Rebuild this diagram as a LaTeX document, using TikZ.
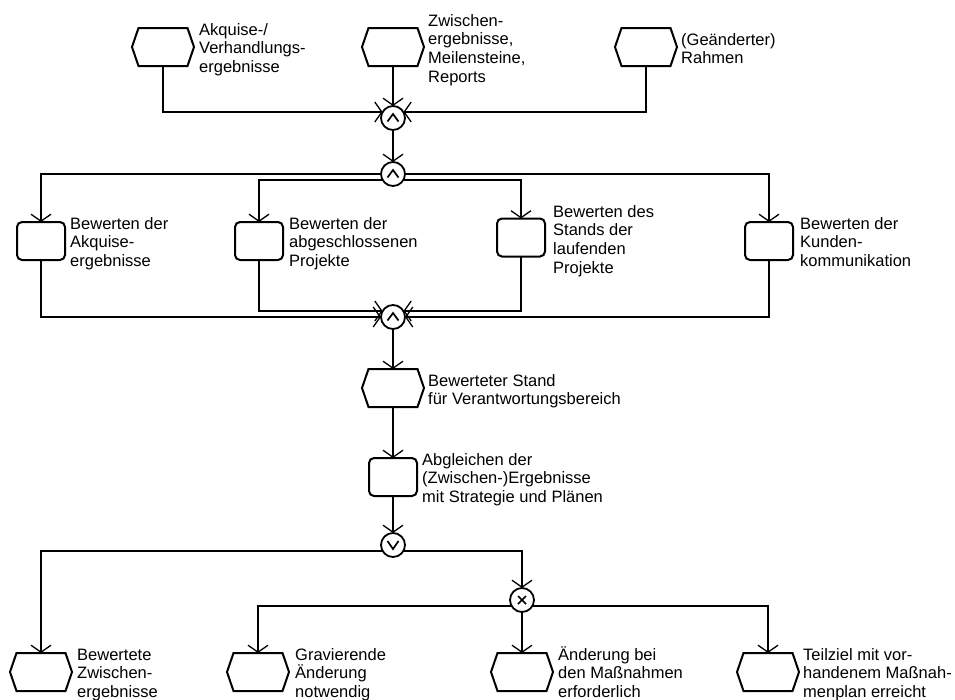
\documentclass[tikz,border=0pt]{standalone}
\usepackage{fontspec}
\setmainfont{Liberation Sans}
\usetikzlibrary{arrows.meta}
\begin{document}
\begin{tikzpicture}[x=1pt,y=-1pt,
  event/.style={minimum width=62pt,minimum height=38pt,inner sep=0pt,outer sep=0pt},
  evline/.style={line width=2pt,line join=miter},
  func/.style={draw,line width=2pt,rounded corners=5pt,minimum width=48pt,minimum height=38pt,inner sep=0pt,outer sep=0pt},
  conn/.style={draw,circle,line width=1.8pt,minimum size=24pt,inner sep=0pt,outer sep=0pt,fill=white},
  sym/.style={line width=1.7pt},
  flow/.style={line width=1.3pt,-{Straight Barb[length=7pt,width=20pt]}},
  lbl/.style={anchor=north west,inner sep=0pt,align=left,font=\fontsize{16.5pt}{18.8pt}\selectfont}
]
\useasboundingbox (0,0) rectangle (955,699);

% events (hexagons are drawn from the node anchors below)
\node[event] (e1) at (163,47) {};
\node[event] (e2) at (393,47) {};
\node[event] (e3) at (646,47) {};
\node[event] (e4) at (393,388) {};
\node[event] (e5) at (41,672) {};
\node[event] (e6) at (258,672) {};
\node[event] (e7) at (522,672) {};
\node[event] (e8) at (768,672) {};

% functions
\node[func] (f1) at (41,241) {};
\node[func] (f2) at (259,241) {};
\node[func] (f3) at (521,237.5) {};
\node[func] (f4) at (769,241) {};
\node[func] (f5) at (393,477) {};

% connectors
\node[conn] (c1) at (393,118) {};
\node[conn] (c2) at (393,174) {};
\node[conn] (c3) at (393,317) {};
\node[conn] (c4) at (393,545) {};
\node[conn] (c5) at (522,600) {};

% hexagon outlines of the events
\foreach \n in {e1,e2,e3,e4,e5,e6,e7,e8}
  \draw[evline] ([xshift=6.5pt]\n.north west) -- ([xshift=-6.5pt]\n.north east) -- (\n.east)
    -- ([xshift=-6.5pt]\n.south east) -- ([xshift=6.5pt]\n.south west) -- (\n.west) -- cycle;

% connector symbols: AND, OR, XOR
\foreach \c in {c1,c2,c3}
  \draw[sym] ([shift={(-5.5,3.5)}]\c.center) -- ([shift={(0,-4)}]\c.center) -- ([shift={(5.5,3.5)}]\c.center);
\draw[sym] ([shift={(-5.5,-4)}]c4.center) -- ([shift={(0,4)}]c4.center) -- ([shift={(5.5,-4)}]c4.center);
\draw[sym] ([shift={(-4,-4)}]c5.center) -- ([shift={(4,4)}]c5.center)
           ([shift={(-4,4)}]c5.center) -- ([shift={(4,-4)}]c5.center);

% control flow
\draw[flow] (e1.south) |- (c1.150);
\draw[flow] (e2.south) -- (c1.north);
\draw[flow] (e3.south) |- (c1.30);
\draw[flow] (c1.south) -- (c2.north);
\draw[flow] (c2.west) -| (f1.north);
\draw[flow] (c2.210) -| (f2.north);
\draw[flow] (c2.330) -| (f3.north);
\draw[flow] (c2.east) -| (f4.north);
\draw[flow] (f1.south) |- (c3.west);
\draw[flow] (f2.south) |- (c3.150);
\draw[flow] (f3.south) |- (c3.30);
\draw[flow] (f4.south) |- (c3.east);
\draw[flow] (c3.south) -- (e4.north);
\draw[flow] (e4.south) -- (f5.north);
\draw[flow] (f5.south) -- (c4.north);
\draw[flow] (c4.210) -| (e5.north);
\draw[flow] (c4.330) -| (c5.north);
\draw[flow] (c5.210) -| (e6.north);
\draw[flow] (c5.south) -- (e7.north);
\draw[flow] (c5.330) -| (e8.north);

% labels
\node[lbl] (l1) at (199,19.8) {\rule{0pt}{15pt}Akquise-/\\Verhandlungs-\\ergebnisse};
\node[lbl] (l2) at (428,10.8) {\rule{0pt}{15pt}Zwischen-\\ergebnisse,\\Meilensteine,\\Reports};
\node[lbl] (l3) at (681,29.8) {\rule{0pt}{15pt}(Geänderter)\\Rahmen};
\node[lbl] (l4) at (70,213.8) {\rule{0pt}{15pt}Bewerten der\\Akquise-\\ergebnisse};
\node[lbl] (l5) at (289,213.8) {\rule{0pt}{15pt}Bewerten der\\abgeschlossenen\\Projekte};
\node[lbl] (l6) at (553,201.8) {\rule{0pt}{15pt}Bewerten des\\Stands der\\laufenden\\Projekte};
\node[lbl] (l7) at (800,213.8) {\rule{0pt}{15pt}Bewerten der\\Kunden-\\kommunikation};
\node[lbl] (l8) at (428,370.8) {\rule{0pt}{15pt}Bewerteter Stand\\für Verantwortungsbereich};
\node[lbl] (l9) at (422,449.8) {\rule{0pt}{15pt}Abgleichen der\\(Zwischen-)Ergebnisse\\mit Strategie und Plänen};
\node[lbl] (l10) at (77,644.8) {\rule{0pt}{15pt}Bewertete\\Zwischen-\\ergebnisse};
\node[lbl] (l11) at (295,644.8) {\rule{0pt}{15pt}Gravierende\\Änderung\\notwendig};
\node[lbl] (l12) at (558,644.8) {\rule{0pt}{15pt}Änderung bei\\den Maßnahmen\\erforderlich};
\node[lbl] (l13) at (803,644.8) {\rule{0pt}{15pt}Teilziel mit vor-\\handenem Maßnah-\\menplan erreicht};
\end{tikzpicture}
\end{document}
